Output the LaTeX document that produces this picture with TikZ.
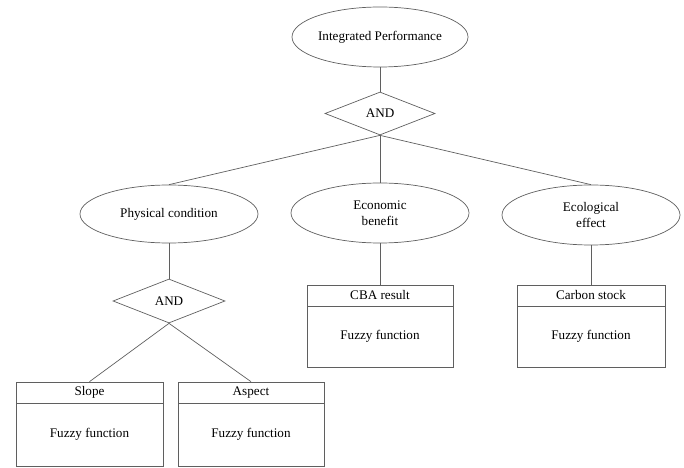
\documentclass[tikz,border=0pt]{standalone}
\usepackage{fontspec}
\setmainfont{Liberation Serif}
\usetikzlibrary{shapes.geometric}
\definecolor{linegray}{RGB}{95,95,95}
\begin{document}
\begin{tikzpicture}[x=1bp,y=-1bp,
  every node/.style={font=\fontsize{13.2}{16}\selectfont, text=black},
  oval/.style={draw=linegray, line width=0.7bp, ellipse, inner sep=0pt, minimum width=178bp, minimum height=60bp, align=center},
  gate/.style={draw=linegray, line width=0.7bp, diamond, inner sep=0pt, aspect=2.5, minimum width=110bp, minimum height=43bp},
  headbox/.style={draw=linegray, line width=0.7bp, rectangle, inner sep=0pt, minimum width=146bp, minimum height=21bp},
  bodybox/.style={draw=linegray, line width=0.7bp, rectangle, inner sep=0pt, minimum width=146bp, minimum height=61bp},
  link/.style={draw=linegray, line width=0.7bp}]
\useasboundingbox (0,0) rectangle (684,468);
\node[oval, minimum width=176bp] (ip) at (380,37) {Integrated Performance};
\node[gate] (and1) at (380,113.5) {AND};
\node[oval, minimum height=58bp] (pc) at (169,214) {Physical condition};
\node[oval] (eb) at (380,213) {Economic\\benefit};
\node[oval] (ee) at (591,215) {Ecological\\effect};
\node[gate, minimum width=112bp, minimum height=44bp] (and2) at (169,301) {AND};
\node[headbox] (cbah) at (380,295.5) {CBA result};
\node[bodybox] (cbab) at (380,336.5) {Fuzzy function};
\node[headbox, minimum width=148bp] (carh) at (591,295.5) {Carbon stock};
\node[bodybox, minimum width=148bp] (carb) at (591,336.5) {Fuzzy function};
\node[headbox, minimum width=147bp] (slh) at (89.5,392.5) {Slope};
\node[bodybox, minimum width=147bp, minimum height=63bp] (slb) at (89.5,434.5) {Fuzzy function};
\node[headbox] (ash) at (251,392.5) {Aspect};
\node[bodybox, minimum height=63bp] (asb) at (251,434.5) {Fuzzy function};
\draw[link] (ip.south) -- (and1.north);
\draw[link] (and1.south) -- (pc.north);
\draw[link] (and1.south) -- (eb.north);
\draw[link] (and1.south) -- (ee.north);
\draw[link] (pc.south) -- (and2.north);
\draw[link] (and2.south) -- (slh.north);
\draw[link] (and2.south) -- (ash.north);
\draw[link] (eb.south) -- (cbah.north);
\draw[link] (ee.south) -- (carh.north);
\end{tikzpicture}
\end{document}
